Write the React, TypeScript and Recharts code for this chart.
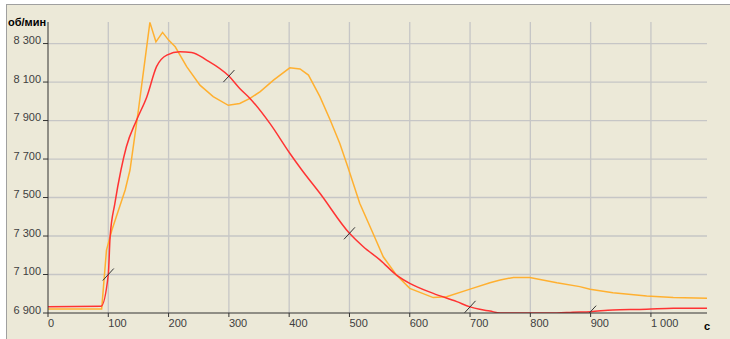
import React from "react";
import { LineChart, Line, XAxis, YAxis, ReferenceLine } from "recharts";

// red curve (time, rpm)
const redTime = [
  0, 88, 100, 103, 111, 121, 130, 147, 164, 180, 197, 219, 238, 263, 300, 318,
  335, 368, 401, 421, 451, 500, 523, 551, 578, 600, 639, 678, 700, 716, 733, 750,
  844, 870, 900, 937, 993, 1037, 1093,
];
const redRpm = [
  6933, 6935, 7100, 7296, 7471, 7643, 7764, 7903, 8024, 8180, 8240, 8257, 8254,
  8214, 8131, 8067, 8015, 7885, 7730, 7643, 7522, 7314, 7244, 7175, 7097, 7054,
  7002, 6959, 6932, 6919, 6910, 6900, 6900, 6904, 6907, 6916, 6919, 6925, 6925,
];

// orange curve (time, rpm)
const orangeTime = [
  0, 89, 97, 106, 128, 136, 150, 169, 179, 190, 200, 211, 230, 252, 274, 299, 318,
  335, 352, 374, 401, 418, 432, 451, 468, 484, 498, 517, 539, 556, 578, 600, 639,
  661, 700, 733, 750, 772, 799, 844, 882, 899, 937, 993, 1037, 1093,
];
const orangeRpm = [
  6921, 6921, 7227, 7331, 7539, 7643, 7955, 8410, 8309, 8358, 8318, 8283, 8180,
  8084, 8024, 7979, 7989, 8015, 8050, 8110, 8174, 8168, 8136, 8024, 7903, 7781,
  7652, 7470, 7314, 7192, 7097, 7028, 6980, 6985, 7024, 7057, 7071, 7085, 7085,
  7057, 7037, 7023, 7005, 6988, 6980, 6976,
];

const markerTimes = [100, 300, 500, 700, 900];
const xTicks = [0, 100, 200, 300, 400, 500, 600, 700, 800, 900, 1000];
const yTicks = [6900, 7100, 7300, 7500, 7700, 7900, 8100, 8300];

const redData = redTime.map((t, i) => ({ t, v: redRpm[i] }));
const orangeData = orangeTime.map((t, i) => ({ t, v: orangeRpm[i] }));

const fmt = (n: number) => String(n).replace(/\B(?=(\d{3})+(?!\d))/g, " ");
const FONT = "'Liberation Sans', Arial, sans-serif";
const GRID = "#c6c6c6";

const XTick = (props: any) => {
  const { x, y, payload } = props;
  return (
    <text x={x} y={y} dy="0.71em" textAnchor="start" fontSize={11} fontFamily={FONT} fill="#404040">
      {fmt(payload.value)}
    </text>
  );
};

const YTick = (props: any) => {
  const { x, y, payload } = props;
  return (
    <text x={x} y={y - 3} dy="0.355em" textAnchor="end" fontSize={11} fontFamily={FONT} fill="#404040">
      {fmt(payload.value)}
    </text>
  );
};

const Slash = (props: any) => {
  const { cx, cy, payload, index } = props;
  if (!markerTimes.includes(payload.t)) return <g key={`n${index}`} />;
  return (
    <line
      key={`m${index}`}
      x1={cx - 5.5}
      y1={cy + 6}
      x2={cx + 5.5}
      y2={cy - 6}
      stroke="#333"
      strokeWidth={1}
    />
  );
};

export default function App() {
  return (
    <div style={{ position: "absolute", left: 0, top: 0, width: 730, height: 339, background: "#fff", overflow: "hidden" }}>
      <div
        style={{
          position: "absolute",
          left: 6,
          top: 4,
          right: 0,
          bottom: 0,
          background: "#ece9d8",
          borderTop: "1px solid #a0a0a0",
          borderLeft: "1px solid #a0a0a0",
        }}
      />
      <div style={{ position: "absolute", left: 0, top: 0 }}>
        <LineChart width={730} height={339} margin={{ top: 22, right: 23, left: 0, bottom: 0 }}>
          <XAxis
            dataKey="t"
            type="number"
            domain={[0, 1093]}
            ticks={xTicks}
            allowDataOverflow
            height={26}
            tickSize={4}
            tickMargin={2}
            tick={<XTick />}
            axisLine={{ stroke: "#333" }}
            tickLine={{ stroke: "#333" }}
          />
          <YAxis
            type="number"
            domain={[6900, 8412]}
            ticks={yTicks}
            allowDataOverflow
            width={48}
            tickSize={5}
            tickMargin={2}
            tick={<YTick />}
            axisLine={{ stroke: "#333" }}
            tickLine={{ stroke: "#333" }}
          />
          {yTicks.slice(1).map((v) => (
            <ReferenceLine key={`h${v}`} y={v} stroke={GRID} strokeWidth={1.3} />
          ))}
          {xTicks.slice(1).map((v) => (
            <ReferenceLine key={`v${v}`} x={v} stroke={GRID} strokeWidth={1.3} />
          ))}
          <Line
            data={orangeData}
            dataKey="v"
            type="linear"
            stroke="#ffb030"
            strokeWidth={1.5}
            dot={false}
            isAnimationActive={false}
          />
          <Line
            data={redData}
            dataKey="v"
            type="monotone"
            stroke="#ff3333"
            strokeWidth={1.5}
            dot={Slash}
            isAnimationActive={false}
          />
        </LineChart>
      </div>
      <div style={{ position: "absolute", left: 8, top: 15, fontFamily: FONT, fontSize: 11, fontWeight: "bold", color: "#000", lineHeight: "14px" }}>
        об/мин
      </div>
      <div style={{ position: "absolute", left: 704, top: 319, fontFamily: FONT, fontSize: 11, fontWeight: "bold", color: "#000", lineHeight: "14px" }}>
        с
      </div>
    </div>
  );
}
